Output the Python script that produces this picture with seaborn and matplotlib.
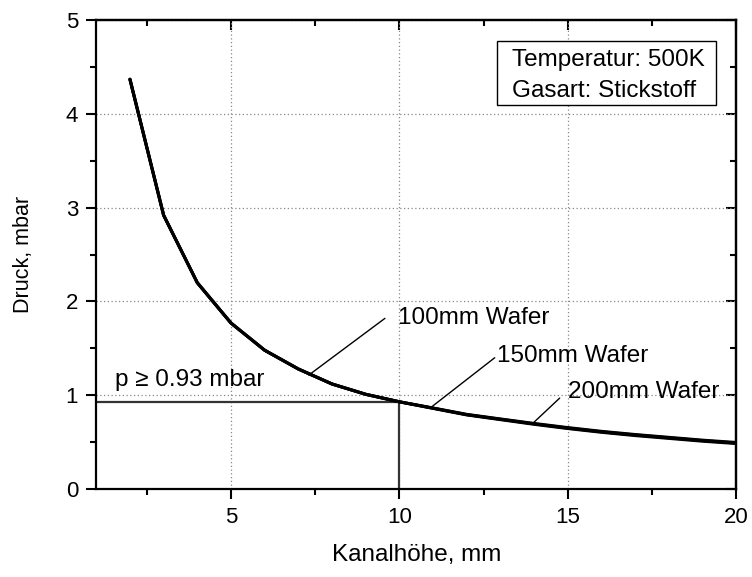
import numpy as np
import pandas as pd
import matplotlib
matplotlib.use("Agg")
import matplotlib.pyplot as plt
from matplotlib.ticker import MultipleLocator
from matplotlib.patches import Rectangle
import seaborn as sns

# Data
kanalhoehe = [2, 3, 4, 5, 6, 7, 8, 9, 10, 11, 12, 13, 14, 15, 16, 17, 18, 19, 20]
druck_100 = [4.37, 2.92, 2.20, 1.77, 1.48, 1.28, 1.12, 1.01, 0.93, 0.86, 0.79,
             0.74, 0.69, 0.645, 0.605, 0.57, 0.54, 0.51, 0.485]
druck_150 = [4.37, 2.92, 2.20, 1.77, 1.48, 1.28, 1.12, 1.01, 0.93, 0.862, 0.793,
             0.744, 0.695, 0.65, 0.61, 0.576, 0.546, 0.516, 0.491]
druck_200 = [4.37, 2.92, 2.20, 1.77, 1.48, 1.28, 1.12, 1.01, 0.93, 0.864, 0.796,
             0.747, 0.699, 0.655, 0.615, 0.581, 0.551, 0.521, 0.496]
series_names = ["100mm Wafer", "150mm Wafer", "200mm Wafer"]
p_min = 0.93
h_min = 10
info_lines = ["Temperatur: 500K", "Gasart: Stickstoff"]

df = pd.DataFrame({
    "h": kanalhoehe * 3,
    "p": druck_100 + druck_150 + druck_200,
    "wafer": [series_names[0]] * len(kanalhoehe) + [series_names[1]] * len(kanalhoehe)
             + [series_names[2]] * len(kanalhoehe),
})

sns.set_style("white")
plt.rcParams["font.family"] = ["Liberation Sans", "DejaVu Sans"]
plt.rcParams["font.size"] = 16
plt.rcParams["text.color"] = "black"
plt.rcParams["axes.labelcolor"] = "black"
plt.rcParams["xtick.color"] = "black"
plt.rcParams["ytick.color"] = "black"

fig = plt.figure(figsize=(7.52, 5.77), dpi=100)
ax = fig.add_axes([0.128, 0.1525, 0.851, 0.8125])

sns.lineplot(data=df, x="h", y="p", hue="wafer", palette=["black"] * 3,
             linewidth=2.2, legend=False, ax=ax, zorder=3)

ax.set_xlim(1, 20)
ax.set_ylim(0, 5)
ax.xaxis.set_major_locator(MultipleLocator(5))
ax.xaxis.set_minor_locator(MultipleLocator(2.5))
ax.yaxis.set_major_locator(MultipleLocator(1))
ax.yaxis.set_minor_locator(MultipleLocator(0.5))

ax.grid(True, which="major", color="#888888", linestyle=(0, (1, 2)), linewidth=0.9)
ax.set_axisbelow(True)

for s in ax.spines.values():
    s.set_visible(True)
    s.set_color("black")
    s.set_linewidth(1.6)

ax.tick_params(which="both", direction="out", bottom=True, left=True, top=False, right=False,
               width=1.5, colors="black", labelsize=16)
ax.tick_params(which="major", length=7, pad=6)
ax.tick_params(which="minor", length=4)
# inward mirrored ticks on top and right
sec_x = ax.secondary_xaxis("top")
sec_x.xaxis.set_major_locator(MultipleLocator(5))
sec_x.xaxis.set_minor_locator(MultipleLocator(2.5))
sec_x.tick_params(which="both", direction="in", labeltop=False, width=1.5, colors="black")
sec_x.tick_params(which="major", length=7)
sec_x.tick_params(which="minor", length=4)
sec_y = ax.secondary_yaxis("right")
sec_y.yaxis.set_major_locator(MultipleLocator(1))
sec_y.yaxis.set_minor_locator(MultipleLocator(0.5))
sec_y.tick_params(which="both", direction="in", labelright=False, width=1.5, colors="black")
sec_y.tick_params(which="major", length=7)
sec_y.tick_params(which="minor", length=4)
for s in list(sec_x.spines.values()) + list(sec_y.spines.values()):
    s.set_linewidth(1.6)
    s.set_color("black")

ax.set_xlabel("Kanalhöhe, mm", fontsize=17.5, color="black")
ax.set_ylabel("Druck, mbar", fontsize=15.5, color="black")
ax.xaxis.label.set_va("center")
ax.yaxis.label.set_va("center")
ax.xaxis.set_label_coords(0.5, -0.141)
ax.yaxis.set_label_coords(-0.114, 0.5)

# threshold lines
ax.plot([1, h_min], [p_min, p_min], color="#333333", linewidth=1.6, zorder=2)
ax.plot([h_min, h_min], [0, p_min], color="#333333", linewidth=1.6, zorder=2)
ax.text(1.56, 1.16, "p \u2265 0.93 mbar", fontsize=17.5, va="center", ha="left", color="black")

# labels with leader lines
ann = [
    (series_names[0], (7.31, 1.215), (9.57, 1.82), (9.95, 1.82)),
    (series_names[1], (10.90, 0.86), (12.83, 1.40), (12.89, 1.42)),
    (series_names[2], (13.93, 0.69), (14.76, 0.97), (15.0, 1.03)),
]
for name, tip, end, txt in ann:
    ax.plot([tip[0], end[0]], [tip[1], end[1]], color="black", linewidth=1.0, zorder=4)
    ax.text(txt[0], txt[1], name, fontsize=17.5, va="center", ha="left", zorder=5, color="black")

# info box
ax.add_patch(Rectangle((0.626, 0.819), 0.343, 0.136, transform=ax.transAxes,
                       facecolor="white", edgecolor="black", linewidth=1.0, zorder=6))
ax.text(0.650, 0.915, info_lines[0], transform=ax.transAxes, fontsize=17.5,
        va="center", ha="left", zorder=7, color="black")
ax.text(0.650, 0.849, info_lines[1], transform=ax.transAxes, fontsize=17.5,
        va="center", ha="left", zorder=7, color="black")

fig.savefig("out.png", dpi=100)
